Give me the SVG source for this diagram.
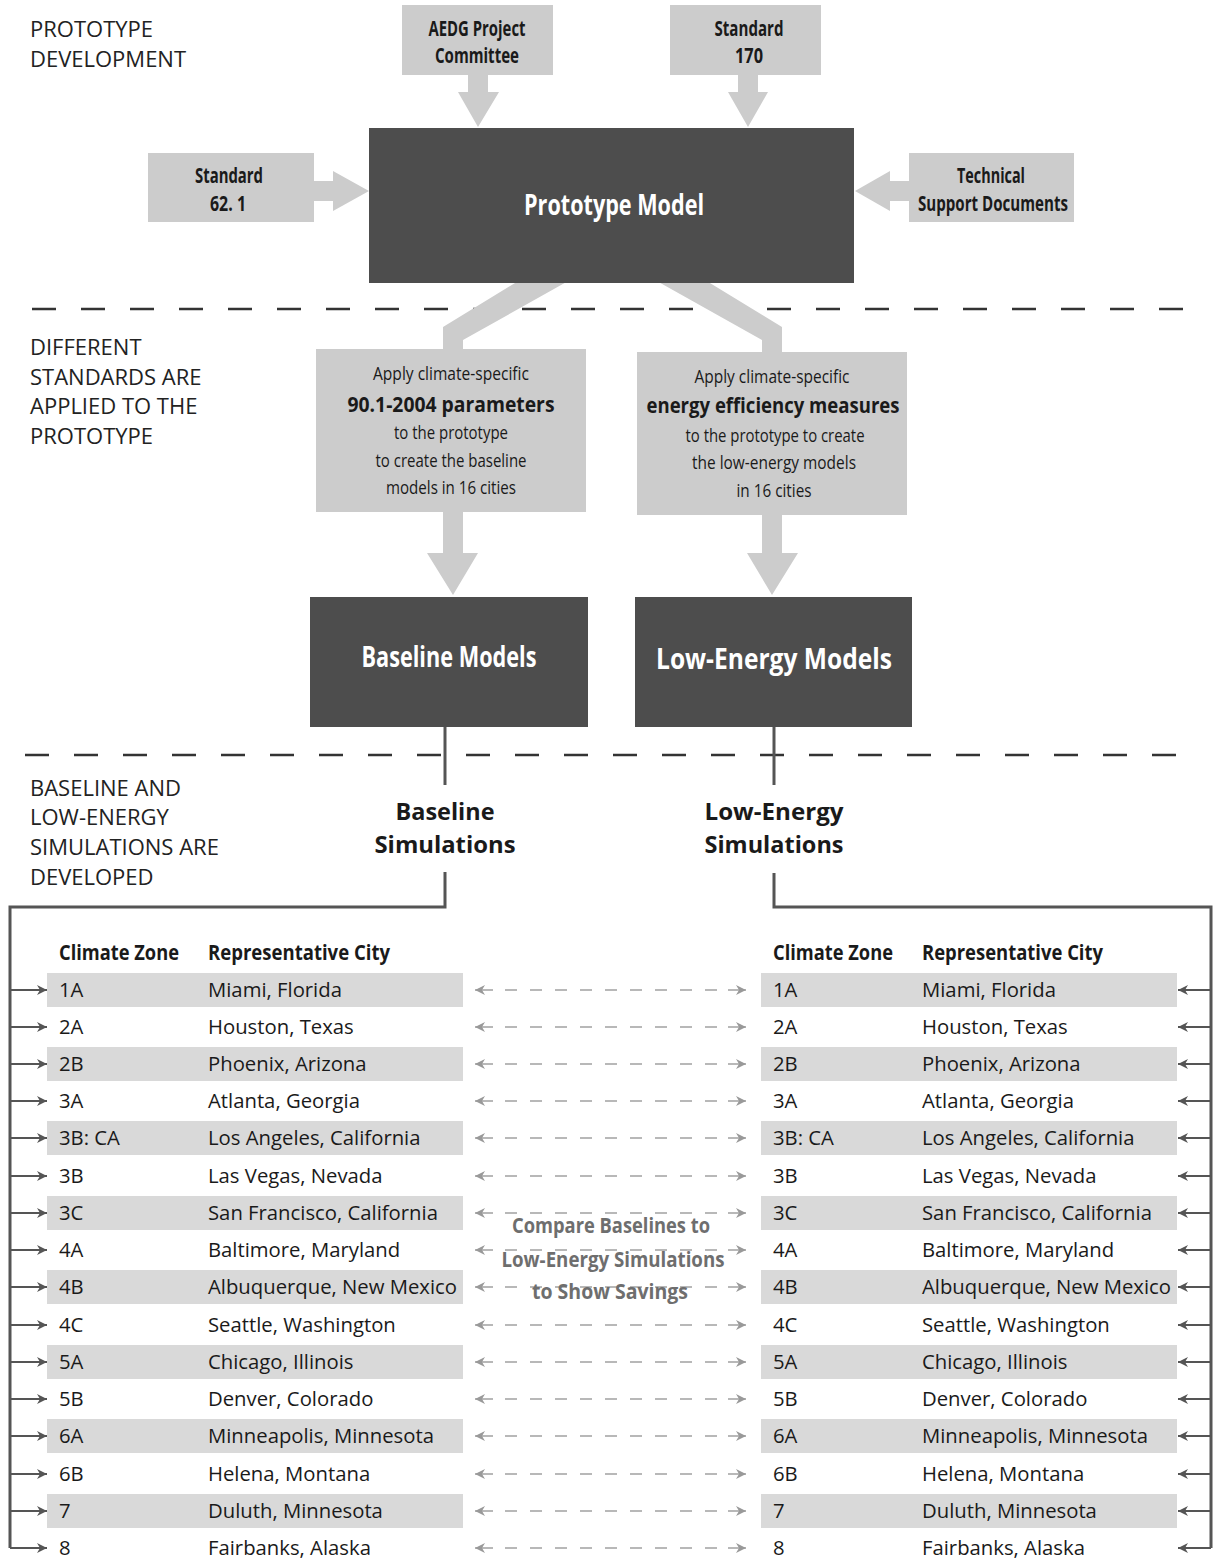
<svg xmlns="http://www.w3.org/2000/svg" width="1214" height="1560" viewBox="0 0 1214 1560">
<defs>
<style>
.sec{font-family:"Open Sans","Liberation Sans",sans-serif;font-size:22px;fill:#222}
.bl{font-family:"Open Sans","Liberation Sans",sans-serif;font-weight:700;font-size:21px;fill:#1a1a1a;text-anchor:middle}
.wt{font-family:"Open Sans","Liberation Sans",sans-serif;font-weight:700;font-size:28px;fill:#ffffff;text-anchor:middle}
.rg{font-family:"Open Sans","Liberation Sans",sans-serif;font-size:19px;fill:#1a1a1a;text-anchor:middle}
.bd{font-family:"Open Sans","Liberation Sans",sans-serif;font-weight:700;font-size:22px;fill:#1a1a1a;text-anchor:middle}
.sim{font-family:"Open Sans","Liberation Sans",sans-serif;font-weight:700;font-size:24px;fill:#1a1a1a;text-anchor:middle}
.th{font-family:"Open Sans","Liberation Sans",sans-serif;font-weight:700;font-size:21px;fill:#1a1a1a}
.td{font-family:"Open Sans","Liberation Sans",sans-serif;font-size:20.3px;fill:#1a1a1a}
.ct{font-family:"Open Sans","Liberation Sans",sans-serif;font-weight:700;font-size:22px;fill:#6e6e6e;text-anchor:middle}
.bx{fill:#cccccc}
.dk{fill:#4d4d4d}
.band{fill:#d9d9d9}
.sep{stroke:#333333;stroke-width:2.5;stroke-dasharray:24 25;fill:none}
.conn{stroke:#555555;stroke-width:3;fill:none}
.tick{stroke:#555555;stroke-width:2;fill:none;marker-end:url(#ah)}
.cmp{stroke:#b8b8b8;stroke-width:2;fill:none;stroke-dasharray:18 12 12 13 12 13 12 13 12 13 12 13 12 13 12 13 12 13 12 11 18 50;marker-start:url(#ahg);marker-end:url(#ahg)}
</style>
<marker id="ah" viewBox="0 0 10 10" refX="10" refY="5" markerWidth="10" markerHeight="10" markerUnits="userSpaceOnUse" orient="auto-start-reverse"><path d="M0,0 L10,5 L0,10 L3,5 z" fill="#555555"/></marker>
<marker id="ahg" viewBox="0 0 10 10" refX="10" refY="5" markerWidth="10" markerHeight="10" markerUnits="userSpaceOnUse" orient="auto-start-reverse"><path d="M0,0 L10,5 L0,10 L3,5 z" fill="#999999"/></marker>
</defs>
<rect width="1214" height="1560" fill="#ffffff"/>

<g id="section-labels">
<text class="sec" x="30" y="37">PROTOTYPE</text>
<text class="sec" x="30" y="67">DEVELOPMENT</text>
<text class="sec" x="30" y="355">DIFFERENT</text>
<text class="sec" x="30" y="385">STANDARDS ARE</text>
<text class="sec" x="30" y="414">APPLIED TO THE</text>
<text class="sec" x="30" y="444">PROTOTYPE</text>
<text class="sec" x="30" y="796">BASELINE AND</text>
<text class="sec" x="30" y="825">LOW-ENERGY</text>
<text class="sec" x="30" y="855">SIMULATIONS ARE</text>
<text class="sec" x="30" y="885">DEVELOPED</text>
</g>

<g id="separators">
<line class="sep" x1="32" y1="309" x2="1183" y2="309"/>
<line class="sep" x1="25" y1="755" x2="1178" y2="755"/>
</g>

<g id="connectors">
<polygon class="bx" points="468,75 488,75 488,92 499,92 478,127 458,92 468,92"/>
<polygon class="bx" points="738,75 758,75 758,92 768,92 748,127 728,92 738,92"/>
<polygon class="bx" points="314,181 333,181 333,171 369,191 333,211 333,201 314,201"/>
<polygon class="bx" points="909,181 890,181 890,171 855,191 890,211 890,201 909,201"/>
<polygon class="bx" points="520,280 570,280 463,340 463,350 443,350 443,327"/>
<polygon class="bx" points="655,280 705,280 782,327 782,353 762,353 762,340"/>
<polygon class="bx" points="443,511 463,511 463,553 478,553 453,595 427,553 443,553"/>
<polygon class="bx" points="762,514 782,514 782,553 798,553 772,595 747,553 762,553"/>
<path class="conn" d="M445,727 V785"/>
<path class="conn" d="M774,727 V785"/>
<path class="conn" d="M445,872 V907 H10 V1548"/>
<path class="conn" d="M774,873 V907 H1211 V1548"/>
</g>

<g id="aedg"><rect class="bx" x="402" y="5" width="151" height="70"/>
<text class="bl" x="477" y="36" textLength="97" lengthAdjust="spacingAndGlyphs">AEDG Project</text>
<text class="bl" x="477" y="63" textLength="84" lengthAdjust="spacingAndGlyphs">Committee</text></g>

<g id="std170"><rect class="bx" x="670" y="5" width="151" height="70"/>
<text class="bl" x="749" y="36" textLength="69" lengthAdjust="spacingAndGlyphs">Standard</text>
<text class="bl" x="749" y="63" textLength="28" lengthAdjust="spacingAndGlyphs">170</text></g>

<g id="std621"><rect class="bx" x="148" y="153" width="166" height="69"/>
<text class="bl" x="229" y="183" textLength="68" lengthAdjust="spacingAndGlyphs">Standard</text>
<text class="bl" x="228" y="211" textLength="36" lengthAdjust="spacingAndGlyphs">62. 1</text></g>

<g id="tsd"><rect class="bx" x="909" y="153" width="165" height="69"/>
<text class="bl" x="991" y="183" textLength="68" lengthAdjust="spacingAndGlyphs">Technical</text>
<text class="bl" x="993" y="211" textLength="150" lengthAdjust="spacingAndGlyphs">Support Documents</text></g>

<g id="prototype"><rect class="dk" x="369" y="128" width="485" height="155"/>
<text class="wt" x="614" y="215" textLength="180" lengthAdjust="spacingAndGlyphs">Prototype Model</text></g>

<g id="apply-baseline"><rect class="bx" x="316" y="349" width="270" height="163"/>
<text class="rg" x="451" y="380" textLength="156" lengthAdjust="spacingAndGlyphs">Apply climate-specific</text>
<text class="bd" x="451" y="412" textLength="207" lengthAdjust="spacingAndGlyphs">90.1-2004 parameters</text>
<text class="rg" x="451" y="439" textLength="114" lengthAdjust="spacingAndGlyphs">to the prototype</text>
<text class="rg" x="451" y="467" textLength="151" lengthAdjust="spacingAndGlyphs">to create the baseline</text>
<text class="rg" x="451" y="494" textLength="130" lengthAdjust="spacingAndGlyphs">models in 16 cities</text></g>

<g id="apply-lowenergy"><rect class="bx" x="637" y="352" width="270" height="163"/>
<text class="rg" x="772" y="383" textLength="155" lengthAdjust="spacingAndGlyphs">Apply climate-specific</text>
<text class="bd" x="773" y="413" textLength="253" lengthAdjust="spacingAndGlyphs">energy efficiency measures</text>
<text class="rg" x="775" y="442" textLength="179" lengthAdjust="spacingAndGlyphs">to the prototype to create</text>
<text class="rg" x="774" y="469" textLength="164" lengthAdjust="spacingAndGlyphs">the low-energy models</text>
<text class="rg" x="774" y="497" textLength="75" lengthAdjust="spacingAndGlyphs">in 16 cities</text></g>

<g id="baseline-models"><rect class="dk" x="310" y="597" width="278" height="130"/>
<text class="wt" x="449" y="667" textLength="175" lengthAdjust="spacingAndGlyphs">Baseline Models</text></g>

<g id="lowenergy-models"><rect class="dk" x="635" y="597" width="277" height="130"/>
<text class="wt" x="774" y="669" textLength="236" lengthAdjust="spacingAndGlyphs">Low-Energy Models</text></g>

<g id="baseline-sims">
<text class="sim" x="445" y="820" textLength="99" lengthAdjust="spacingAndGlyphs">Baseline</text>
<text class="sim" x="445" y="853" textLength="141" lengthAdjust="spacingAndGlyphs">Simulations</text></g>

<g id="lowenergy-sims">
<text class="sim" x="774" y="820" textLength="139" lengthAdjust="spacingAndGlyphs">Low-Energy</text>
<text class="sim" x="774" y="853" textLength="139" lengthAdjust="spacingAndGlyphs">Simulations</text></g>

<g id="table-bands">
<rect class="band" x="47" y="973" width="416" height="34"/>
<rect class="band" x="47" y="1047" width="416" height="34"/>
<rect class="band" x="47" y="1121" width="416" height="34"/>
<rect class="band" x="47" y="1196" width="416" height="34"/>
<rect class="band" x="47" y="1270" width="416" height="34"/>
<rect class="band" x="47" y="1345" width="416" height="34"/>
<rect class="band" x="47" y="1419" width="416" height="34"/>
<rect class="band" x="47" y="1494" width="416" height="34"/>
<rect class="band" x="761" y="973" width="416" height="34"/>
<rect class="band" x="761" y="1047" width="416" height="34"/>
<rect class="band" x="761" y="1121" width="416" height="34"/>
<rect class="band" x="761" y="1196" width="416" height="34"/>
<rect class="band" x="761" y="1270" width="416" height="34"/>
<rect class="band" x="761" y="1345" width="416" height="34"/>
<rect class="band" x="761" y="1419" width="416" height="34"/>
<rect class="band" x="761" y="1494" width="416" height="34"/>
</g>

<g id="row-arrows">
<line class="tick" x1="10" y1="990" x2="47" y2="990"/>
<line class="tick" x1="10" y1="1027" x2="47" y2="1027"/>
<line class="tick" x1="10" y1="1064" x2="47" y2="1064"/>
<line class="tick" x1="10" y1="1101" x2="47" y2="1101"/>
<line class="tick" x1="10" y1="1138" x2="47" y2="1138"/>
<line class="tick" x1="10" y1="1176" x2="47" y2="1176"/>
<line class="tick" x1="10" y1="1213" x2="47" y2="1213"/>
<line class="tick" x1="10" y1="1250" x2="47" y2="1250"/>
<line class="tick" x1="10" y1="1287" x2="47" y2="1287"/>
<line class="tick" x1="10" y1="1325" x2="47" y2="1325"/>
<line class="tick" x1="10" y1="1362" x2="47" y2="1362"/>
<line class="tick" x1="10" y1="1399" x2="47" y2="1399"/>
<line class="tick" x1="10" y1="1436" x2="47" y2="1436"/>
<line class="tick" x1="10" y1="1474" x2="47" y2="1474"/>
<line class="tick" x1="10" y1="1511" x2="47" y2="1511"/>
<line class="tick" x1="10" y1="1548" x2="47" y2="1548"/>
<line class="tick" x1="1211" y1="990" x2="1178" y2="990"/>
<line class="tick" x1="1211" y1="1027" x2="1178" y2="1027"/>
<line class="tick" x1="1211" y1="1064" x2="1178" y2="1064"/>
<line class="tick" x1="1211" y1="1101" x2="1178" y2="1101"/>
<line class="tick" x1="1211" y1="1138" x2="1178" y2="1138"/>
<line class="tick" x1="1211" y1="1176" x2="1178" y2="1176"/>
<line class="tick" x1="1211" y1="1213" x2="1178" y2="1213"/>
<line class="tick" x1="1211" y1="1250" x2="1178" y2="1250"/>
<line class="tick" x1="1211" y1="1287" x2="1178" y2="1287"/>
<line class="tick" x1="1211" y1="1325" x2="1178" y2="1325"/>
<line class="tick" x1="1211" y1="1362" x2="1178" y2="1362"/>
<line class="tick" x1="1211" y1="1399" x2="1178" y2="1399"/>
<line class="tick" x1="1211" y1="1436" x2="1178" y2="1436"/>
<line class="tick" x1="1211" y1="1474" x2="1178" y2="1474"/>
<line class="tick" x1="1211" y1="1511" x2="1178" y2="1511"/>
<line class="tick" x1="1211" y1="1548" x2="1178" y2="1548"/>
</g>

<g id="compare-arrows">
<path class="cmp" d="M475,990 H746"/>
<path class="cmp" d="M475,1027 H746"/>
<path class="cmp" d="M475,1064 H746"/>
<path class="cmp" d="M475,1101 H746"/>
<path class="cmp" d="M475,1138 H746"/>
<path class="cmp" d="M475,1176 H746"/>
<path class="cmp" d="M475,1213 H746"/>
<path class="cmp" d="M475,1250 H746"/>
<path class="cmp" d="M475,1287 H746"/>
<path class="cmp" d="M475,1325 H746"/>
<path class="cmp" d="M475,1362 H746"/>
<path class="cmp" d="M475,1399 H746"/>
<path class="cmp" d="M475,1436 H746"/>
<path class="cmp" d="M475,1474 H746"/>
<path class="cmp" d="M475,1511 H746"/>
<path class="cmp" d="M475,1548 H746"/>
</g>

<g id="compare-label">
<text class="ct" x="611" y="1233" textLength="198" lengthAdjust="spacingAndGlyphs">Compare Baselines to</text>
<text class="ct" x="613" y="1267" textLength="223" lengthAdjust="spacingAndGlyphs">Low-Energy Simulations</text>
<text class="ct" x="610" y="1299" textLength="156" lengthAdjust="spacingAndGlyphs">to Show Savings</text>
</g>

<g id="table-baseline">
<text class="th" x="59" y="960" textLength="120" lengthAdjust="spacingAndGlyphs">Climate Zone</text>
<text class="th" x="208" y="960" textLength="182" lengthAdjust="spacingAndGlyphs">Representative City</text>
<text class="td" x="59" y="997">1A</text><text class="td" x="208" y="997">Miami, Florida</text>
<text class="td" x="59" y="1034">2A</text><text class="td" x="208" y="1034">Houston, Texas</text>
<text class="td" x="59" y="1071">2B</text><text class="td" x="208" y="1071">Phoenix, Arizona</text>
<text class="td" x="59" y="1108">3A</text><text class="td" x="208" y="1108">Atlanta, Georgia</text>
<text class="td" x="59" y="1145">3B: CA</text><text class="td" x="208" y="1145">Los Angeles, California</text>
<text class="td" x="59" y="1183">3B</text><text class="td" x="208" y="1183">Las Vegas, Nevada</text>
<text class="td" x="59" y="1220">3C</text><text class="td" x="208" y="1220">San Francisco, California</text>
<text class="td" x="59" y="1257">4A</text><text class="td" x="208" y="1257">Baltimore, Maryland</text>
<text class="td" x="59" y="1294">4B</text><text class="td" x="208" y="1294">Albuquerque, New Mexico</text>
<text class="td" x="59" y="1332">4C</text><text class="td" x="208" y="1332">Seattle, Washington</text>
<text class="td" x="59" y="1369">5A</text><text class="td" x="208" y="1369">Chicago, Illinois</text>
<text class="td" x="59" y="1406">5B</text><text class="td" x="208" y="1406">Denver, Colorado</text>
<text class="td" x="59" y="1443">6A</text><text class="td" x="208" y="1443">Minneapolis, Minnesota</text>
<text class="td" x="59" y="1481">6B</text><text class="td" x="208" y="1481">Helena, Montana</text>
<text class="td" x="59" y="1518">7</text><text class="td" x="208" y="1518">Duluth, Minnesota</text>
<text class="td" x="59" y="1555">8</text><text class="td" x="208" y="1555">Fairbanks, Alaska</text>
</g>

<g id="table-lowenergy">
<text class="th" x="773" y="960" textLength="120" lengthAdjust="spacingAndGlyphs">Climate Zone</text>
<text class="th" x="922" y="960" textLength="181" lengthAdjust="spacingAndGlyphs">Representative City</text>
<text class="td" x="773" y="997">1A</text><text class="td" x="922" y="997">Miami, Florida</text>
<text class="td" x="773" y="1034">2A</text><text class="td" x="922" y="1034">Houston, Texas</text>
<text class="td" x="773" y="1071">2B</text><text class="td" x="922" y="1071">Phoenix, Arizona</text>
<text class="td" x="773" y="1108">3A</text><text class="td" x="922" y="1108">Atlanta, Georgia</text>
<text class="td" x="773" y="1145">3B: CA</text><text class="td" x="922" y="1145">Los Angeles, California</text>
<text class="td" x="773" y="1183">3B</text><text class="td" x="922" y="1183">Las Vegas, Nevada</text>
<text class="td" x="773" y="1220">3C</text><text class="td" x="922" y="1220">San Francisco, California</text>
<text class="td" x="773" y="1257">4A</text><text class="td" x="922" y="1257">Baltimore, Maryland</text>
<text class="td" x="773" y="1294">4B</text><text class="td" x="922" y="1294">Albuquerque, New Mexico</text>
<text class="td" x="773" y="1332">4C</text><text class="td" x="922" y="1332">Seattle, Washington</text>
<text class="td" x="773" y="1369">5A</text><text class="td" x="922" y="1369">Chicago, Illinois</text>
<text class="td" x="773" y="1406">5B</text><text class="td" x="922" y="1406">Denver, Colorado</text>
<text class="td" x="773" y="1443">6A</text><text class="td" x="922" y="1443">Minneapolis, Minnesota</text>
<text class="td" x="773" y="1481">6B</text><text class="td" x="922" y="1481">Helena, Montana</text>
<text class="td" x="773" y="1518">7</text><text class="td" x="922" y="1518">Duluth, Minnesota</text>
<text class="td" x="773" y="1555">8</text><text class="td" x="922" y="1555">Fairbanks, Alaska</text>
</g>
</svg>
